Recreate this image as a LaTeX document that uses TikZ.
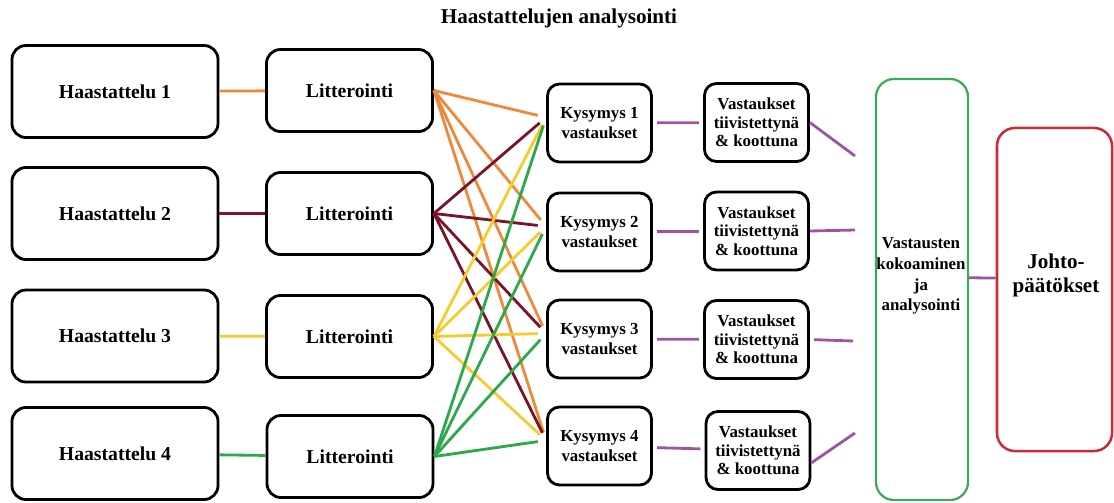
\documentclass[tikz,border=0pt]{standalone}
\usepackage{fontspec}
\setmainfont{Liberation Serif}
\definecolor{litorange}{RGB}{238,137,60}
\definecolor{litmaroon}{RGB}{122,20,38}
\definecolor{lityellow}{RGB}{245,203,47}
\definecolor{litgreen}{RGB}{45,168,74}
\definecolor{kokogreen}{RGB}{61,170,90}
\definecolor{purp}{RGB}{160,84,160}
\definecolor{johtored}{RGB}{204,43,54}
\begin{document}
\begin{tikzpicture}[x=0.025cm, y=-0.025cm,
  box/.style={draw, line width=2pt, rounded corners=0.35cm, align=center, inner sep=2pt,
    font=\bfseries\fontsize{14}{17}\selectfont},
  haas/.style={box, minimum width=5.15cm, minimum height=2.3cm},
  litt/.style={box, minimum width=4.15cm, minimum height=2.05cm},
  kys/.style={box, rounded corners=0.3cm, minimum width=2.6cm, minimum height=1.95cm,
    font=\bfseries\fontsize{12}{14}\selectfont},
  vas/.style={kys, font=\bfseries\fontsize{12}{13}\selectfont},
  wire/.style={line width=2pt},
  cross/.style={line width=2pt, shorten >=6pt},
]
\useasboundingbox (0,0) rectangle (1114,502);
\node[font=\bfseries\fontsize{15}{18}\selectfont] (title) at (559,18) {Haastattelujen analysointi};
% interviews
\node[haas] (h1) at (115,91.5) {Haastattelu 1};
\node[haas] (h2) at (115,213.5) {Haastattelu 2};
\node[haas] (h3) at (115,336) {Haastattelu 3};
\node[haas] (h4) at (115,453.5) {Haastattelu 4};
% transcriptions
\node[litt] (l1) at (349.5,90.5) {Litterointi};
\node[litt] (l2) at (349.5,213.5) {Litterointi};
\node[litt] (l3) at (349.5,336.5) {Litterointi};
\node[litt] (l4) at (350,456.5) {Litterointi};
\draw[wire, litorange] (h1) -- (l1);
\draw[wire, litmaroon] (h2) -- (l2);
\draw[wire, lityellow] (h3) -- (l3);
\draw[wire, litgreen] (h4) -- (l4);
% questions
\node[kys] (k1) at (599.5,123) {Kysymys 1\\vastaukset};
\node[kys] (k2) at (599.5,232) {Kysymys 2\\vastaukset};
\node[kys] (k3) at (599.5,339) {Kysymys 3\\vastaukset};
\node[kys] (k4) at (599.5,446) {Kysymys 4\\vastaukset};
% 1st transcription
\draw[cross, litorange] (l1.east) -- (k1.174);
\draw[cross, litorange] (l1.east) -- (k2.174);
\draw[cross, litorange] (l1.east) -- (k3.174);
\draw[cross, litorange] (l1.east) -- (k4.174);
% 2nd transcription
\draw[cross, litmaroon] (l2.east) -- (k1.174);
\draw[cross, litmaroon] (l2.east) -- (k2.174);
\draw[cross, litmaroon] (l2.east) -- (k3.174);
\draw[cross, litmaroon] (l2.east) -- (k4.174);
% 3rd transcription
\draw[cross, lityellow] (l3.east) -- (k1.174);
\draw[cross, lityellow] (l3.east) -- (k2.174);
\draw[cross, lityellow] (l3.east) -- (k3.174);
\draw[cross, lityellow] (l3.east) -- (k4.174);
% 4th transcription
\draw[cross, litgreen] (l4.east) -- (k1.174);
\draw[cross, litgreen] (l4.east) -- (k2.174);
\draw[cross, litgreen] (l4.east) -- (k3.174);
\draw[cross, litgreen] (l4.east) -- (k4.174);
% summaries
\node[vas] (v1) at (756.5,122.5) {Vastaukset\\tiivistettynä\\\& koottuna};
\node[vas] (v2) at (756.5,231) {Vastaukset\\tiivistettynä\\\& koottuna};
\node[vas] (v3) at (756.5,339.5) {Vastaukset\\tiivistettynä\\\& koottuna};
\node[vas] (v4) at (758,450.5) {Vastaukset\\tiivistettynä\\\& koottuna};
\draw[wire, purp, shorten <=3pt, shorten >=3pt] (k1) -- (v1);
\draw[wire, purp, shorten <=3pt, shorten >=3pt] (k2) -- (v2);
\draw[wire, purp, shorten <=3pt, shorten >=3pt] (k3) -- (v3);
\draw[wire, purp, shorten <=3pt, shorten >=3pt] (k4) -- (v4);
% compiling and conclusions
\node[draw=kokogreen, line width=1.6pt, rounded corners=0.45cm, minimum width=2.3cm, minimum height=10.525cm] (koko) at (922,289.5) {};
\node[font=\bfseries\fontsize{12}{14.7}\selectfont, align=center] (kokot) at (921,276) {Vastausten\\kokoaminen\\ja\\analysointi};
\node[draw=johtored, line width=1.8pt, rounded corners=0.45cm, minimum width=2.875cm, minimum height=8.075cm] (johto) at (1054.5,289.5) {};
\node[font=\bfseries\fontsize{15}{17}\selectfont, align=center] (johtot) at (1056,275) {Johto-\\päätökset};
\coordinate (e1) at (855,156);
\coordinate (e2) at (855,230);
\coordinate (e3) at (853,341);
\coordinate (e4) at (855,433);
\draw[wire, purp] (v1.east) -- (e1);
\draw[wire, purp] (v2.east) -- (e2);
\draw[wire, purp, shorten <=3pt] (v3.east) -- (e3);
\draw[wire, purp] (v4.-13) -- (e4);
\draw[wire, purp] (koko.14) -- (johto.169);
\end{tikzpicture}
\end{document}
